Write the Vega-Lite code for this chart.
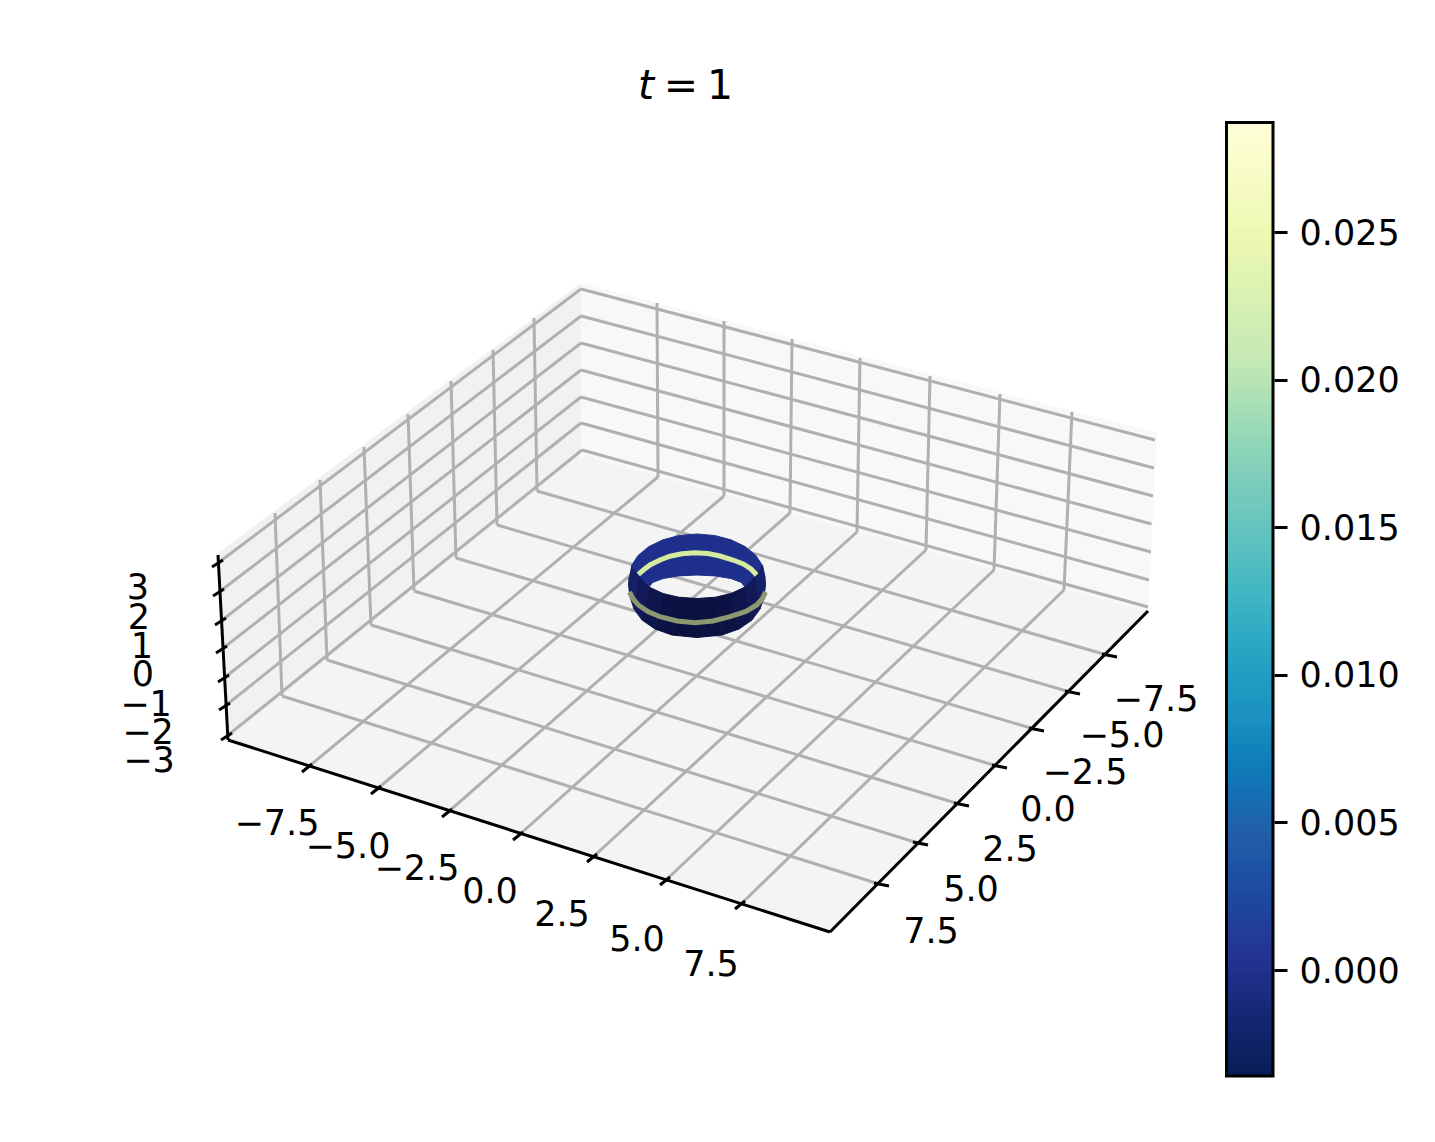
{
"$schema":"https://vega.github.io/schema/vega-lite/v6.json",
"width":1435,"height":1142,"padding":0,"autosize":{"type":"fit","contains":"padding"},
"background":"white",
"config":{"view":{"stroke":null},"text":{"font":"DejaVu Sans"}},
"resolve":{"scale":{"x":"independent","y":"independent","color":"independent","fill":"independent","stroke":"independent"},"axis":{"y":"independent"}},
"datasets":{
"panes":[
{"part":"left","i":0,"sx":218,"sy":553},{"part":"left","i":1,"sx":581,"sy":283},{"part":"left","i":2,"sx":581,"sy":455},{"part":"left","i":3,"sx":228,"sy":740},
{"part":"right","i":0,"sx":581,"sy":283},{"part":"right","i":1,"sx":1157,"sy":433},{"part":"right","i":2,"sx":1148,"sy":612},{"part":"right","i":3,"sx":581,"sy":455},
{"part":"floor","i":0,"sx":228,"sy":740},{"part":"floor","i":1,"sx":581,"sy":455},{"part":"floor","i":2,"sx":1148,"sy":612},{"part":"floor","i":3,"sx":830,"sy":932}],
"grid":[
{"a":307,"b":768,"c":658,"d":477},{"a":376,"b":790,"c":724,"d":496},{"a":447,"b":813,"c":790,"d":513},{"a":518,"b":836,"c":857,"d":532},{"a":592,"b":858,"c":926,"d":550},{"a":665,"b":881,"c":994,"d":570},{"a":740,"b":905,"c":1064,"d":590},
{"a":658,"b":477,"c":657,"d":303},{"a":724,"b":496,"c":724,"d":321},{"a":790,"b":513,"c":792,"d":339},{"a":857,"b":532,"c":860,"d":358},{"a":926,"b":550,"c":930,"d":376},{"a":994,"b":570,"c":1000,"d":394},{"a":1064,"b":590,"c":1072,"d":412},
{"a":1107,"b":655,"c":537,"d":491},{"a":1070,"b":692,"c":497,"d":525},{"a":1034,"b":729,"c":456,"d":558},{"a":997,"b":766,"c":414,"d":591},{"a":959,"b":804,"c":371,"d":625},{"a":918,"b":843,"c":327,"d":660},{"a":879,"b":884,"c":282,"d":696},
{"a":282,"b":696,"c":275,"d":513},{"a":327,"b":660,"c":320,"d":480},{"a":371,"b":625,"c":364,"d":447},{"a":414,"b":591,"c":408,"d":414},{"a":456,"b":558,"c":451,"d":381},{"a":497,"b":525,"c":493,"d":350},{"a":537,"b":491,"c":534,"d":318},
{"a":218,"b":563,"c":581,"d":289},{"a":219,"b":592,"c":581,"d":316},{"a":221,"b":621,"c":581,"d":343},{"a":222,"b":649,"c":581,"d":370},{"a":224,"b":678,"c":581,"d":397},{"a":225,"b":706,"c":581,"d":423},{"a":227,"b":736,"c":582,"d":450},
{"a":581,"b":289,"c":1155,"d":440},{"a":581,"b":316,"c":1154,"d":468},{"a":581,"b":343,"c":1153,"d":496},{"a":581,"b":370,"c":1151.5,"d":524},{"a":581,"b":397,"c":1151,"d":552},{"a":581,"b":423,"c":1149,"d":580},{"a":582,"b":450,"c":1148,"d":607}],
"axes":[
{"a":218,"b":555,"c":228,"d":740},{"a":228,"b":740,"c":830,"d":932},{"a":830,"b":932,"c":1148,"d":611},
{"a":212,"b":567,"c":223,"d":560},{"a":213,"b":596,"c":224,"d":589},{"a":215,"b":625,"c":226,"d":618},{"a":216,"b":653,"c":227,"d":646},{"a":218,"b":682,"c":229,"d":675},{"a":219,"b":710,"c":230,"d":703},{"a":221,"b":740,"c":232,"d":733},
{"a":302,"b":772,"c":312,"d":764},{"a":371,"b":794,"c":381,"d":786},{"a":442,"b":817,"c":452,"d":809},{"a":513,"b":840,"c":523,"d":832},{"a":587,"b":862,"c":597,"d":854},{"a":660,"b":885,"c":670,"d":877},{"a":735,"b":909,"c":745,"d":901},
{"a":1102,"b":654,"c":1117,"d":657},{"a":1065,"b":691,"c":1080,"d":694},{"a":1029,"b":728,"c":1044,"d":731},{"a":992,"b":765,"c":1007,"d":768},{"a":954,"b":803,"c":969,"d":806},{"a":913,"b":842,"c":928,"d":845},{"a":874,"b":883,"c":889,"d":886}],
"labels":[
{"t":"−7.5","sx":277,"sy":824},{"t":"−5.0","sx":348,"sy":847},{"t":"−2.5","sx":417,"sy":869},{"t":"0.0","sx":490,"sy":892},{"t":"2.5","sx":562,"sy":915},{"t":"5.0","sx":637,"sy":940},{"t":"7.5","sx":711,"sy":965},
{"t":"−7.5","sx":1156,"sy":700},{"t":"−5.0","sx":1122,"sy":736},{"t":"−2.5","sx":1085,"sy":773},{"t":"0.0","sx":1048,"sy":810},{"t":"2.5","sx":1010,"sy":850},{"t":"5.0","sx":971,"sy":890},{"t":"7.5","sx":931,"sy":932},
{"t":"3","sx":138,"sy":588},{"t":"2","sx":139,"sy":618},{"t":"1","sx":142,"sy":647},{"t":"0","sx":143,"sy":675},{"t":"−1","sx":146,"sy":705},{"t":"−2","sx":148,"sy":733},{"t":"−3","sx":149,"sy":761}],
"ring":[
{"part":"b","i":0,"sx":631.3,"sy":565.9},{"part":"b","i":1,"sx":638.1,"sy":555.5},{"part":"b","i":2,"sx":648.9,"sy":546.6},{"part":"b","i":3,"sx":663,"sy":539.8},{"part":"b","i":4,"sx":679.4,"sy":535.5},{"part":"b","i":5,"sx":697,"sy":534},{"part":"b","i":6,"sx":714.6,"sy":535.5},{"part":"b","i":7,"sx":731,"sy":539.8},{"part":"b","i":8,"sx":745.1,"sy":546.6},{"part":"b","i":9,"sx":755.9,"sy":555.5},{"part":"b","i":10,"sx":762.7,"sy":565.9},{"part":"b","i":11,"sx":755.7,"sy":576},{"part":"b","i":12,"sx":745,"sy":587},{"part":"b","i":13,"sx":741.3,"sy":582.4},{"part":"b","i":14,"sx":730.9,"sy":578.5},{"part":"b","i":15,"sx":715.4,"sy":575.9},{"part":"b","i":16,"sx":697,"sy":575},{"part":"b","i":17,"sx":678.6,"sy":575.9},{"part":"b","i":18,"sx":663.1,"sy":578.5},{"part":"b","i":19,"sx":652.7,"sy":582.4},{"part":"b","i":20,"sx":649,"sy":587},{"part":"b","i":21,"sx":638.3,"sy":576},
{"part":"f01","i":0,"sx":631.3,"sy":565.9},{"part":"f01","i":1,"sx":638.3,"sy":576},{"part":"f01","i":2,"sx":634,"sy":609},{"part":"f01","i":3,"sx":630,"sy":597},{"part":"f01","i":4,"sx":628.5,"sy":585},{"part":"f01","i":5,"sx":629,"sy":577},
{"part":"f02","i":0,"sx":638.3,"sy":576},{"part":"f02","i":1,"sx":649,"sy":587},{"part":"f02","i":2,"sx":642,"sy":620},{"part":"f02","i":3,"sx":634,"sy":609},
{"part":"f03","i":0,"sx":649,"sy":587},{"part":"f03","i":1,"sx":663,"sy":593.5},{"part":"f03","i":2,"sx":655,"sy":629},{"part":"f03","i":3,"sx":642,"sy":620},
{"part":"f04","i":0,"sx":663,"sy":593.5},{"part":"f04","i":1,"sx":678.6,"sy":597.2},{"part":"f04","i":2,"sx":672,"sy":635},{"part":"f04","i":3,"sx":655,"sy":629},
{"part":"f05","i":0,"sx":678.6,"sy":597.2},{"part":"f05","i":1,"sx":697,"sy":598.5},{"part":"f05","i":2,"sx":697,"sy":637.5},{"part":"f05","i":3,"sx":672,"sy":635},
{"part":"f06","i":0,"sx":697,"sy":598.5},{"part":"f06","i":1,"sx":715.4,"sy":597.2},{"part":"f06","i":2,"sx":722,"sy":635},{"part":"f06","i":3,"sx":697,"sy":637.5},
{"part":"f07","i":0,"sx":715.4,"sy":597.2},{"part":"f07","i":1,"sx":731,"sy":593.5},{"part":"f07","i":2,"sx":739,"sy":629},{"part":"f07","i":3,"sx":722,"sy":635},
{"part":"f08","i":0,"sx":731,"sy":593.5},{"part":"f08","i":1,"sx":745,"sy":587},{"part":"f08","i":2,"sx":752,"sy":620},{"part":"f08","i":3,"sx":739,"sy":629},
{"part":"f09","i":0,"sx":745,"sy":587},{"part":"f09","i":1,"sx":755.7,"sy":576},{"part":"f09","i":2,"sx":760,"sy":609},{"part":"f09","i":3,"sx":752,"sy":620},
{"part":"f10","i":0,"sx":755.7,"sy":576},{"part":"f10","i":1,"sx":762.7,"sy":565.9},{"part":"f10","i":2,"sx":765,"sy":577},{"part":"f10","i":3,"sx":765.5,"sy":585},{"part":"f10","i":4,"sx":764,"sy":597},{"part":"f10","i":5,"sx":760,"sy":609}],
"stripes":[
{"part":"back","i":0,"sx":638.3,"sy":574.3},{"part":"back","i":1,"sx":644,"sy":569.5},{"part":"back","i":2,"sx":650,"sy":565},{"part":"back","i":3,"sx":660,"sy":560},{"part":"back","i":4,"sx":670,"sy":556.2},{"part":"back","i":5,"sx":682,"sy":553.8},{"part":"back","i":6,"sx":695,"sy":552.7},{"part":"back","i":7,"sx":708,"sy":553.5},{"part":"back","i":8,"sx":720,"sy":556},{"part":"back","i":9,"sx":733,"sy":560},{"part":"back","i":10,"sx":743.3,"sy":564},{"part":"back","i":11,"sx":751,"sy":569},{"part":"back","i":12,"sx":756.7,"sy":575},
{"part":"front","i":0,"sx":629.5,"sy":592},{"part":"front","i":1,"sx":633,"sy":598.5},{"part":"front","i":2,"sx":638.3,"sy":605},{"part":"front","i":3,"sx":648,"sy":611.5},{"part":"front","i":4,"sx":660,"sy":616.7},{"part":"front","i":5,"sx":677,"sy":621},{"part":"front","i":6,"sx":695,"sy":622.7},{"part":"front","i":7,"sx":713,"sy":621},{"part":"front","i":8,"sx":730,"sy":616.7},{"part":"front","i":9,"sx":746,"sy":611.5},{"part":"front","i":10,"sx":756.7,"sy":605},{"part":"front","i":11,"sx":762.5,"sy":598.5},{"part":"front","i":12,"sx":765.5,"sy":592}],
"bar":[
{"v":-0.0036,"w":-0.0032},{"v":-0.00335,"w":-0.00295},{"v":-0.0031,"w":-0.0027},{"v":-0.00285,"w":-0.00245},{"v":-0.0026,"w":-0.0022},{"v":-0.00235,"w":-0.00195},{"v":-0.0021,"w":-0.0017},{"v":-0.00185,"w":-0.00145},{"v":-0.0016,"w":-0.0012},{"v":-0.00135,"w":-0.00095},{"v":-0.0011,"w":-0.0007},{"v":-0.00085,"w":-0.00045},{"v":-0.0006,"w":-0.0002},{"v":-0.00035,"w":0.00005},{"v":-0.0001,"w":0.0003},{"v":0.00015,"w":0.00055},{"v":0.0004,"w":0.0008},{"v":0.00065,"w":0.00105},{"v":0.0009,"w":0.0013},{"v":0.00115,"w":0.00155},{"v":0.0014,"w":0.0018},{"v":0.00165,"w":0.00205},{"v":0.0019,"w":0.0023},{"v":0.00215,"w":0.00255},{"v":0.0024,"w":0.0028},{"v":0.00265,"w":0.00305},{"v":0.0029,"w":0.0033},{"v":0.00315,"w":0.00355},{"v":0.0034,"w":0.0038},{"v":0.00365,"w":0.00405},{"v":0.0039,"w":0.0043},{"v":0.00415,"w":0.00455},{"v":0.0044,"w":0.0048},{"v":0.00465,"w":0.00505},{"v":0.0049,"w":0.0053},{"v":0.00515,"w":0.00555},{"v":0.0054,"w":0.0058},{"v":0.00565,"w":0.00605},{"v":0.0059,"w":0.0063},{"v":0.00615,"w":0.00655},{"v":0.0064,"w":0.0068},{"v":0.00665,"w":0.00705},{"v":0.0069,"w":0.0073},{"v":0.00715,"w":0.00755},{"v":0.0074,"w":0.0078},{"v":0.00765,"w":0.00805},{"v":0.0079,"w":0.0083},{"v":0.00815,"w":0.00855},{"v":0.0084,"w":0.0088},{"v":0.00865,"w":0.00905},{"v":0.0089,"w":0.0093},{"v":0.00915,"w":0.00955},{"v":0.0094,"w":0.0098},{"v":0.00965,"w":0.01005},{"v":0.0099,"w":0.0103},{"v":0.01015,"w":0.01055},{"v":0.0104,"w":0.0108},{"v":0.01065,"w":0.01105},{"v":0.0109,"w":0.0113},{"v":0.01115,"w":0.01155},{"v":0.0114,"w":0.0118},{"v":0.01165,"w":0.01205},{"v":0.0119,"w":0.0123},{"v":0.01215,"w":0.01255},{"v":0.0124,"w":0.0128},{"v":0.01265,"w":0.01305},{"v":0.0129,"w":0.0133},{"v":0.01315,"w":0.01355},{"v":0.0134,"w":0.0138},{"v":0.01365,"w":0.01405},{"v":0.0139,"w":0.0143},{"v":0.01415,"w":0.01455},{"v":0.0144,"w":0.0148},{"v":0.01465,"w":0.01505},{"v":0.0149,"w":0.0153},{"v":0.01515,"w":0.01555},{"v":0.0154,"w":0.0158},{"v":0.01565,"w":0.01605},{"v":0.0159,"w":0.0163},{"v":0.01615,"w":0.01655},{"v":0.0164,"w":0.0168},{"v":0.01665,"w":0.01705},{"v":0.0169,"w":0.0173},{"v":0.01715,"w":0.01755},{"v":0.0174,"w":0.0178},{"v":0.01765,"w":0.01805},{"v":0.0179,"w":0.0183},{"v":0.01815,"w":0.01855},{"v":0.0184,"w":0.0188},{"v":0.01865,"w":0.01905},{"v":0.0189,"w":0.0193},{"v":0.01915,"w":0.01955},{"v":0.0194,"w":0.0198},{"v":0.01965,"w":0.02005},{"v":0.0199,"w":0.0203},{"v":0.02015,"w":0.02055},{"v":0.0204,"w":0.0208},{"v":0.02065,"w":0.02105},{"v":0.0209,"w":0.0213},{"v":0.02115,"w":0.02155},{"v":0.0214,"w":0.0218},{"v":0.02165,"w":0.02205},{"v":0.0219,"w":0.0223},{"v":0.02215,"w":0.02255},{"v":0.0224,"w":0.0228},{"v":0.02265,"w":0.02305},{"v":0.0229,"w":0.0233},{"v":0.02315,"w":0.02355},{"v":0.0234,"w":0.0238},{"v":0.02365,"w":0.02405},{"v":0.0239,"w":0.0243},{"v":0.02415,"w":0.02455},{"v":0.0244,"w":0.0248},{"v":0.02465,"w":0.02505},{"v":0.0249,"w":0.0253},{"v":0.02515,"w":0.02555},{"v":0.0254,"w":0.0258},{"v":0.02565,"w":0.02605},{"v":0.0259,"w":0.0263},{"v":0.02615,"w":0.02655},{"v":0.0264,"w":0.0268},{"v":0.02665,"w":0.02705},{"v":0.0269,"w":0.0273},{"v":0.02715,"w":0.02755},{"v":0.0274,"w":0.0278},{"v":0.02765,"w":0.02805},{"v":0.0279,"w":0.0283},{"v":0.02815,"w":0.02855},{"v":0.0284,"w":0.02871}]
},
"layer":[
{"data":{"name":"panes"},"mark":{"type":"line","strokeWidth":0},
 "encoding":{"x":{"field":"sx","type":"quantitative","scale":{"domain":[0,1435],"nice":false,"zero":false},"axis":null},"y":{"field":"sy","type":"quantitative","scale":{"domain":[1142,0],"nice":false,"zero":false},"axis":null},"order":{"field":"i"},
 "detail":{"field":"part"},"fill":{"field":"part","type":"nominal","legend":null,"scale":{"domain":["left","right","floor"],"range":["#f1f1f1","#f8f8f8","#f4f4f4"]}}}},
{"data":{"name":"grid"},"mark":{"type":"rule","color":"#b0b0b0","strokeWidth":3},
 "encoding":{"x":{"field":"a","type":"quantitative","scale":{"domain":[0,1435],"nice":false,"zero":false},"axis":null},"y":{"field":"b","type":"quantitative","scale":{"domain":[1142,0],"nice":false,"zero":false},"axis":null},"x2":{"field":"c"},"y2":{"field":"d"}}},
{"data":{"name":"axes"},"mark":{"type":"rule","color":"#000000","strokeWidth":3},
 "encoding":{"x":{"field":"a","type":"quantitative","scale":{"domain":[0,1435],"nice":false,"zero":false},"axis":null},"y":{"field":"b","type":"quantitative","scale":{"domain":[1142,0],"nice":false,"zero":false},"axis":null},"x2":{"field":"c"},"y2":{"field":"d"}}},
{"data":{"name":"labels"},"mark":{"type":"text","font":"DejaVu Sans","fontSize":35,"align":"center","baseline":"middle","color":"#000000"},
 "encoding":{"x":{"field":"sx","type":"quantitative","scale":{"domain":[0,1435],"nice":false,"zero":false},"axis":null},"y":{"field":"sy","type":"quantitative","scale":{"domain":[1142,0],"nice":false,"zero":false},"axis":null},"text":{"field":"t"}}},
{"data":{"values":[{"t":"t","sx":646,"sy":87}]},"mark":{"type":"text","font":"DejaVu Sans","fontStyle":"italic","fontSize":41,"align":"center","baseline":"middle","color":"#000000"},
 "encoding":{"x":{"field":"sx","type":"quantitative","scale":{"domain":[0,1435],"nice":false,"zero":false},"axis":null},"y":{"field":"sy","type":"quantitative","scale":{"domain":[1142,0],"nice":false,"zero":false},"axis":null},"text":{"field":"t"}}},
{"data":{"values":[{"t":"=","sx":681,"sy":87},{"t":"1","sx":720,"sy":87}]},"mark":{"type":"text","font":"DejaVu Sans","fontSize":41,"align":"center","baseline":"middle","color":"#000000"},
 "encoding":{"x":{"field":"sx","type":"quantitative","scale":{"domain":[0,1435],"nice":false,"zero":false},"axis":null},"y":{"field":"sy","type":"quantitative","scale":{"domain":[1142,0],"nice":false,"zero":false},"axis":null},"text":{"field":"t"}}},
{"data":{"name":"ring"},"mark":{"type":"line","strokeWidth":1},
 "encoding":{"x":{"field":"sx","type":"quantitative","scale":{"domain":[0,1435],"nice":false,"zero":false},"axis":null},"y":{"field":"sy","type":"quantitative","scale":{"domain":[1142,0],"nice":false,"zero":false},"axis":null},"order":{"field":"i"},"detail":{"field":"part"},
 "fill":{"field":"part","type":"nominal","legend":null,"scale":{"domain":["b","f01","f02","f03","f04","f05","f06","f07","f08","f09","f10"],"range":["#1f2f8c","#151f66","#111958","#0e154c","#0c1244","#0b1140","#0b1140","#0c1244","#0e154c","#111958","#151f66"]}},
 "stroke":{"field":"part","type":"nominal","legend":null,"scale":{"domain":["b","f01","f02","f03","f04","f05","f06","f07","f08","f09","f10"],"range":["#1f2f8c","#151f66","#111958","#0e154c","#0c1244","#0b1140","#0b1140","#0c1244","#0e154c","#111958","#151f66"]}}}},
{"data":{"name":"stripes"},"mark":{"type":"line","strokeWidth":5},
 "encoding":{"x":{"field":"sx","type":"quantitative","scale":{"domain":[0,1435],"nice":false,"zero":false},"axis":null},"y":{"field":"sy","type":"quantitative","scale":{"domain":[1142,0],"nice":false,"zero":false},"axis":null},"order":{"field":"i"},
 "stroke":{"field":"part","type":"nominal","legend":null,"scale":{"domain":["back","front"],"range":["#d6eaa0","#8e9870"]}}}},
{"data":{"name":"bar"},"mark":{"type":"rect"},
 "encoding":{"x":{"datum":0,"type":"quantitative","scale":{"domain":[0,1],"range":[1226.5,1273]},"axis":null},"x2":{"datum":1},
 "y":{"field":"v","type":"quantitative","scale":{"domain":[-0.00359,0.02871],"range":[1076,122.5],"nice":false,"zero":false},
  "axis":{"orient":"right","offset":-161,"title":null,"values":[0,0.005,0.01,0.015,0.02,0.025],"format":".3f","domain":false,"grid":false,"tickSize":13,"tickWidth":3,"tickColor":"#000000","labelFont":"DejaVu Sans","labelFontSize":35,"labelColor":"#000000","labelPadding":12,"labelOffset":1}},
 "y2":{"field":"w"},
 "color":{"field":"v","type":"quantitative","legend":null,"scale":{"domain":[-0.00359,0.00045,0.00448,0.00851,0.01256,0.0166,0.02063,0.02468,0.02871],"range":["#081d58","#253494","#225ea8","#1d91c0","#41b6c4","#7fcdbb","#c7e9b4","#edf8b1","#ffffd9"]}}}},
{"data":{"values":[{"lo":-0.00359,"hi":0.02871}]},"mark":{"type":"rect","fill":null,"stroke":"#000000","strokeWidth":3},
 "encoding":{"x":{"datum":0,"type":"quantitative","scale":{"domain":[0,1],"range":[1226.5,1273]},"axis":null},"x2":{"datum":1},
 "y":{"field":"lo","type":"quantitative","scale":{"domain":[-0.00359,0.02871],"range":[1076,122.5],"nice":false,"zero":false},"axis":null},"y2":{"field":"hi"}}}
]
}
